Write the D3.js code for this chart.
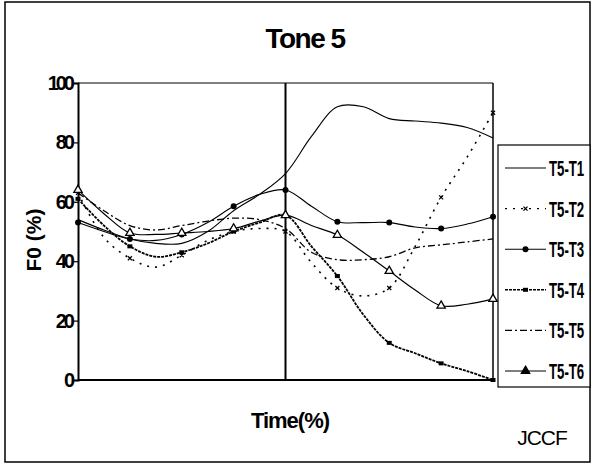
<!DOCTYPE html>
<html><head><meta charset="utf-8">
<script src="https://cdn.jsdelivr.net/npm/d3@7"></script>
<style>
html,body{margin:0;padding:0;background:#fff;}
svg{display:block;font-family:"Liberation Sans",Arial,sans-serif;}
</style></head>
<body>
<svg id="chart" width="593" height="465"></svg>
<script>
// ---- data ----
const timePct = [0,6.25,12.5,18.75,25,31.25,37.5,43.75,50,56.25,62.5,68.75,75,81.25,87.5,93.75,100];
const t5t1 = [54,50.5,47.5,46,46,50,57,62.5,69.5,82,92,92,88,87.2,86.5,85,81.5];
const t5t2 = [63,48,41,38,42,47,50,51,50,39.5,31,28.3,31,45,61.5,75,90];
const t5t3 = [53,50,47.5,47,49,53,58.5,62.5,64,58.5,53.3,53,53,51.5,51,52.5,55];
const t5t4 = [61,52,45,41.5,43,46,50,53,55.5,45,35,22,12.5,9,5.6,3,0];
const t5t5 = [63,57,52,50.5,52,53.5,54.5,54,51,43,40.5,40.5,41.5,44.5,45.5,46.5,47.5];
const t5t6 = [64,56,49.5,49,49.5,50,51,53.5,55.5,52,48.8,43,36.7,30.3,25,25.5,27.3];
const seriesNames = ["T5-T1","T5-T2","T5-T3","T5-T4","T5-T5","T5-T6"];
const yTicks = [0,20,40,60,80,100];
const titleText = "Tone 5";
const xTitle = "Time(%)";
const yTitle = "F0 (%)";
const credit = "JCCF";

const seriesValues = [t5t1,t5t2,t5t3,t5t4,t5t5,t5t6];
const styles = [
  {w:1.1, dash:null, marker:null},
  {w:1.6, dash:"2,6", marker:"x"},
  {w:1.1, dash:null, marker:"circle"},
  {w:1.8, dash:"3,1", marker:"square"},
  {w:1.3, dash:"7,3,2,3", marker:null},
  {w:1.2, dash:null, marker:"triangle"}
];

const svg = d3.select("#chart");
svg.append("rect").attr("width",593).attr("height",465).attr("fill","#fff");
// outer frame
svg.append("rect").attr("x",5).attr("y",2).attr("width",585).attr("height",460)
  .attr("fill","none").attr("stroke","#000").attr("stroke-width",1.5);

const L=78,R=493,T=83,B=380;
const x = d3.scaleLinear().domain([0,100]).range([L,R]);
const y = d3.scaleLinear().domain([0,100]).range([B,T]);

// title
svg.append("text").attr("x",305).attr("y",48).attr("text-anchor","middle")
  .attr("font-size",28).attr("font-weight","bold").attr("letter-spacing",-1.5).text(titleText);

// plot frame
svg.append("line").attr("x1",L).attr("x2",R).attr("y1",T).attr("y2",T).attr("stroke","#000").attr("stroke-width",1);
svg.append("line").attr("x1",R).attr("x2",R).attr("y1",T).attr("y2",B).attr("stroke","#000").attr("stroke-width",1.5);
svg.append("line").attr("x1",L).attr("x2",R).attr("y1",B).attr("y2",B).attr("stroke","#000").attr("stroke-width",2);
svg.append("line").attr("x1",x(50)).attr("x2",x(50)).attr("y1",T).attr("y2",B).attr("stroke","#000").attr("stroke-width",2);

// y axis
const ya = svg.append("g").attr("transform",`translate(${L},0)`)
  .call(d3.axisLeft(y).tickValues(yTicks).tickSize(4).tickPadding(2).tickFormat(d3.format("d")));
ya.select(".domain").attr("stroke-width",2);
ya.selectAll("text").attr("font-size",20).attr("font-weight","bold").attr("letter-spacing",-3)
  .attr("font-family","Liberation Sans, Arial, sans-serif").attr("fill","#000");
ya.selectAll("line").attr("stroke-width",1.2);

// axis titles
svg.append("text").attr("transform","translate(41,240) rotate(-90)").attr("text-anchor","middle")
  .attr("font-size",21).attr("font-weight","bold").text(yTitle);
svg.append("text").attr("x",290).attr("y",428).attr("text-anchor","middle")
  .attr("font-size",22).attr("font-weight","bold").attr("letter-spacing",-1).text(xTitle);
svg.append("text").attr("x",542).attr("y",445).attr("text-anchor","middle")
  .attr("font-size",21).attr("letter-spacing",-1).text(credit);

// lines
const line = d3.line().x((d,i)=>x(timePct[i])).y(d=>y(d)).curve(d3.curveCatmullRom.alpha(0.5));
const tri = d3.symbol().type(d3.symbolTriangle).size(30);
function drawMarker(g, type, cx, cy, legend){
  if(type==="circle") g.append("circle").attr("cx",cx).attr("cy",cy).attr("r",3).attr("fill","#000");
  else if(type==="square") g.append("rect").attr("x",cx-2.5).attr("y",cy-2).attr("width",5).attr("height",4).attr("fill","#000");
  else if(type==="triangle") g.append("path").attr("d",tri()).attr("transform",`translate(${cx},${cy})`)
      .attr("fill",legend?"#000":"#fff").attr("stroke","#000").attr("stroke-width",1.3);
  else if(type==="x") g.append("path").attr("d",`M${cx-2},${cy-2}L${cx+2},${cy+2}M${cx-2},${cy+2}L${cx+2},${cy-2}`)
      .attr("stroke","#000").attr("stroke-width",1.3);
}
seriesValues.forEach((vals,si)=>{
  const st = styles[si];
  const g = svg.append("g");
  g.append("path").attr("d",line(vals)).attr("fill","none").attr("stroke","#000")
    .attr("stroke-width",st.w).attr("stroke-dasharray",st.dash);
  if(st.marker){
    vals.forEach((v,i)=>{ if(i%2===0) drawMarker(g, st.marker, x(timePct[i]), y(v), false); });
  }
});

// legend
const lg = svg.append("g");
lg.append("rect").attr("x",498).attr("y",145).attr("width",92).attr("height",242)
  .attr("fill","#fff").attr("stroke","#000").attr("stroke-width",1.2);
seriesNames.forEach((nm,i)=>{
  const ly = 168 + i*40.6;
  const st = styles[i];
  lg.append("line").attr("x1",505).attr("x2",546).attr("y1",ly).attr("y2",ly)
    .attr("stroke","#000").attr("stroke-width",Math.min(st.w,1.4)).attr("stroke-dasharray",st.dash);
  if(st.marker) drawMarker(lg, st.marker, 525.5, ly, true);
  lg.append("text").attr("transform",`translate(549,${ly+8}) scale(0.6,1)`)
    .attr("font-size",22).attr("font-weight","bold").text(nm);
});
</script>
</body></html>
